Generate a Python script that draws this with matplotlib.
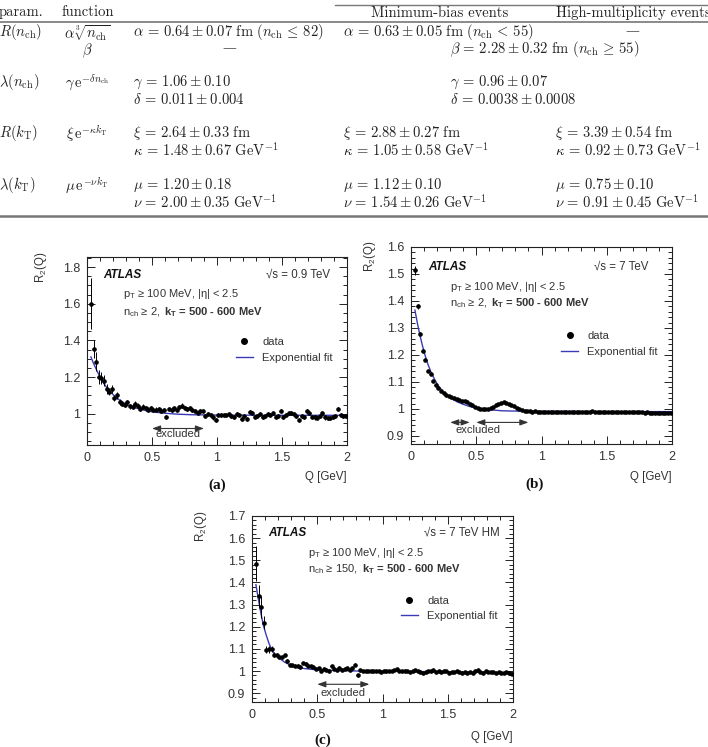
"""Two-particle correlation R2(Q) fits with a table of fit parameters above."""
import numpy as np
import matplotlib.pyplot as plt
from matplotlib.lines import Line2D
from matplotlib.ticker import MultipleLocator, FuncFormatter

plt.rcParams['font.family'] = ['Liberation Sans', 'DejaVu Sans']
plt.rcParams['mathtext.fontset'] = 'custom'
plt.rcParams['mathtext.rm'] = 'Liberation Sans'
plt.rcParams['mathtext.it'] = 'Liberation Sans:italic'
plt.rcParams['mathtext.bf'] = 'Liberation Sans:bold'

# ---- table content ----
param_labels = [r'$R(n_{\rm ch})$', r'$\lambda(n_{\rm ch})$', r'$R(k_{\rm T})$', r'$\lambda(k_{\rm T})$']
functions = [r'$\alpha\,\sqrt[3]{n_{\rm ch}}$', r'$\gamma\,{\rm e}^{-\delta n_{\rm ch}}$',
             r'$\xi\,{\rm e}^{-\kappa k_{\rm T}}$', r'$\mu\,{\rm e}^{-\nu k_{\rm T}}$']
col_900 = [[r'$\alpha\,=\,0.64 \pm 0.07\ {\rm fm}\ (n_{\rm ch}\,\leq\,82)$'],
           [r'$\gamma\,=\,1.06 \pm 0.10$', r'$\delta\,=\,0.011 \pm 0.004$'],
           [r'$\xi\,=\,2.64 \pm 0.33\ {\rm fm}$', r'$\kappa\,=\,1.48 \pm 0.67\ {\rm GeV}^{-1}$'],
           [r'$\mu\,=\,1.20 \pm 0.18$', r'$\nu\,=\,2.00 \pm 0.35\ {\rm GeV}^{-1}$']]
col_mb = [[r'$\alpha\,=\,0.63 \pm 0.05\ {\rm fm}\ (n_{\rm ch}\,<\,55)$'],
          [],
          [r'$\xi\,=\,2.88 \pm 0.27\ {\rm fm}$', r'$\kappa\,=\,1.05 \pm 0.58\ {\rm GeV}^{-1}$'],
          [r'$\mu\,=\,1.12 \pm 0.10$', r'$\nu\,=\,1.54 \pm 0.26\ {\rm GeV}^{-1}$']]
col_hm = [[],
          [],
          [r'$\xi\,=\,3.39 \pm 0.54\ {\rm fm}$', r'$\kappa\,=\,0.92 \pm 0.73\ {\rm GeV}^{-1}$'],
          [r'$\mu\,=\,0.75 \pm 0.10$', r'$\nu\,=\,0.91 \pm 0.45\ {\rm GeV}^{-1}$']]
col_span = [[None, r'$\beta\,=\,2.28 \pm 0.32\ {\rm fm}\ (n_{\rm ch}\,\geq\,55)$'],
            [r'$\gamma\,=\,0.96 \pm 0.07$', r'$\delta\,=\,0.0038 \pm 0.0008$']]

# ---- R2(Q) data ----
q = np.round(np.arange(0.03, 2.0, 0.02), 2)

r2_a = [1.60, 1.354, 1.285, 1.20, 1.195, 1.18, 1.135, 1.12, 1.135, 1.087,
        1.10, 1.063, 1.056, 1.05, 1.063, 1.04, 1.038, 1.056, 1.045, 1.027,
        1.038, 1.03, 1.023, 1.032, 1.02, 1.023, 1.027, 1.018, 1.02, 0.984,
        1.027, 1.023, 1.03, 1.02, 1.036, 1.045, 1.032, 1.027, 1.03, 1.02,
        1.018, 1.002, 1.015, 1.015, 0.987, 1.0, 0.995, 0.98, 0.966,
        0.995, 0.995, 0.995, 0.993, 0.998, 0.99, 0.985, 1.0, 0.992, 0.97,
        0.99, 0.97, 1.01, 1.005, 0.985, 0.99, 1.0, 0.985, 0.99, 1.0,
        0.995, 1.005, 0.985, 0.99, 1.018, 0.985, 0.995, 1.005, 1.005, 1.0,
        0.99, 0.968, 0.99, 0.985, 1.015, 1.005, 0.985, 0.98, 0.978, 0.99,
        1.005, 0.98, 0.978, 0.978, 0.985, 0.99, 1.025, 0.995, 0.99, 0.99]
err_a = [0.14, 0.05, 0.05, 0.04, 0.035, 0.03, 0.025, 0.02, 0.02, 0.018,
         0.018, 0.016, 0.015, 0.015, 0.014, 0.014, 0.014, 0.013, 0.013, 0.013,
         0.013, 0.012, 0.012, 0.012, 0.012, 0.012, 0.012, 0.012, 0.012, 0.012,
         0.012, 0.012, 0.012, 0.012, 0.012, 0.012, 0.012, 0.011, 0.011, 0.011,
         0.011, 0.011, 0.011, 0.011, 0.011, 0.011, 0.011, 0.011, 0.011,
         0.011, 0.011, 0.011, 0.011, 0.011, 0.011, 0.011, 0.011, 0.011, 0.011,
         0.011, 0.011, 0.011, 0.011, 0.011, 0.011, 0.011, 0.011, 0.011, 0.011,
         0.011, 0.011, 0.011, 0.011, 0.011, 0.011, 0.011, 0.011, 0.011, 0.011,
         0.011, 0.011, 0.011, 0.011, 0.011, 0.011, 0.011, 0.011, 0.011, 0.011,
         0.011, 0.011, 0.011, 0.011, 0.011, 0.011, 0.011, 0.011, 0.011, 0.011]

r2_b = [1.514, 1.38, 1.279, 1.216, 1.183, 1.139, 1.129, 1.104, 1.089, 1.078,
        1.066, 1.059, 1.052, 1.048, 1.044, 1.04, 1.038, 1.034, 1.031, 1.029,
        1.025, 1.02, 1.015, 1.008, 1.003, 0.999, 0.998, 0.999, 1.001, 1.004,
        1.008, 1.013, 1.018, 1.021, 1.024, 1.023, 1.02, 1.015, 1.01, 1.005,
        1.0, 0.996, 0.994, 0.991,
        0.991, 0.99, 0.991, 0.99, 0.99, 0.989, 0.99, 0.989, 0.989, 0.99,
        0.989, 0.988, 0.989, 0.988, 0.988, 0.989, 0.988, 0.987, 0.988, 0.988,
        0.989, 0.988, 0.989, 0.99, 0.991, 0.99, 0.989, 0.988, 0.989, 0.988,
        0.988, 0.989, 0.988, 0.987, 0.988, 0.988, 0.987, 0.988, 0.987, 0.988,
        0.987, 0.987, 0.988, 0.987, 0.986, 0.987, 0.986, 0.986, 0.985, 0.986,
        0.985, 0.985, 0.986, 0.985, 0.984]
err_b = [0.016, 0.008, 0.006, 0.005, 0.005, 0.004, 0.004, 0.004, 0.003, 0.003,
         0.003, 0.003, 0.003, 0.003, 0.003, 0.003, 0.003, 0.003, 0.003, 0.003,
         0.003, 0.003, 0.003, 0.003, 0.003, 0.003, 0.003, 0.003, 0.003, 0.003,
         0.003, 0.003, 0.003, 0.003, 0.003, 0.003, 0.003, 0.003, 0.003, 0.003,
         0.003, 0.003, 0.003, 0.003,
         0.003, 0.003, 0.003, 0.003, 0.003, 0.003, 0.003, 0.003, 0.003, 0.003,
         0.003, 0.003, 0.003, 0.003, 0.003, 0.003, 0.003, 0.003, 0.003, 0.003,
         0.003, 0.003, 0.003, 0.003, 0.003, 0.003, 0.003, 0.003, 0.003, 0.003,
         0.003, 0.003, 0.003, 0.003, 0.003, 0.003, 0.003, 0.003, 0.003, 0.003,
         0.003, 0.003, 0.003, 0.003, 0.003, 0.003, 0.003, 0.003, 0.003, 0.003,
         0.003, 0.003, 0.003, 0.003, 0.003]

r2_c = [1.485, 1.34, 1.29, 1.218, 1.097, 1.098, 1.10, 1.074, 1.071, 1.064,
        1.061, 1.071, 1.045, 1.029, 1.026, 1.024, 1.023, 1.018, 1.036, 1.033,
        1.024, 1.021, 1.018, 1.011, 1.014, 1.0, 1.011, 1.006, 1.002, 1.023,
        1.011, 1.003, 1.015, 1.006, 1.011, 1.014, 1.006, 1.015, 1.029, 0.98,
        1.003, 1.0, 1.0,
        0.999, 1.0, 0.998, 1.001, 0.999, 0.997, 1.0, 0.998, 1.001, 0.999,
        1.003, 1.008, 1.0, 0.998, 1.002, 1.0, 0.997, 0.999, 1.004, 1.001,
        0.996, 0.99, 0.995, 1.001, 0.998, 1.004, 0.996, 1.0, 0.994, 0.998,
        1.0, 0.993, 0.997, 0.995, 0.999, 0.994, 0.993, 0.996, 0.992, 0.995,
        0.993, 1.002, 1.004, 0.997, 0.993, 0.999, 0.996, 0.995, 0.994, 0.992,
        0.996, 0.993, 0.991, 0.994, 0.989, 0.985]
err_c = [0.08, 0.05, 0.05, 0.03, 0.015, 0.015, 0.015, 0.01, 0.01, 0.01,
         0.008, 0.008, 0.008, 0.007, 0.007, 0.007, 0.007, 0.007, 0.006, 0.006,
         0.006, 0.006, 0.006, 0.006, 0.006, 0.006, 0.006, 0.006, 0.006, 0.006,
         0.006, 0.006, 0.006, 0.006, 0.006, 0.006, 0.006, 0.006, 0.006, 0.006,
         0.006, 0.006, 0.006,
         0.005, 0.005, 0.005, 0.005, 0.005, 0.005, 0.005, 0.005, 0.005, 0.005,
         0.005, 0.005, 0.005, 0.005, 0.005, 0.005, 0.005, 0.005, 0.005, 0.005,
         0.005, 0.005, 0.005, 0.005, 0.005, 0.005, 0.005, 0.005, 0.005, 0.005,
         0.005, 0.005, 0.005, 0.005, 0.005, 0.005, 0.005, 0.005, 0.005, 0.005,
         0.005, 0.005, 0.005, 0.005, 0.005, 0.005, 0.005, 0.005, 0.005, 0.005,
         0.005, 0.005, 0.005, 0.005, 0.005, 0.005]

# exponential fit curves, read at a few Q values
fit_q_a = [0.03, 0.05, 0.07, 0.09, 0.11, 0.13, 0.15, 0.18, 0.21, 0.25, 0.30,
           0.35, 0.40, 0.45, 0.50, 0.60, 0.70, 0.80, 1.00, 1.50, 2.00]
fit_a = [1.31, 1.275, 1.245, 1.215, 1.19, 1.165, 1.145, 1.12, 1.098, 1.075, 1.053,
         1.038, 1.027, 1.018, 1.011, 1.003, 0.998, 0.995, 0.993, 0.992, 0.992]
fit_q_b = [0.03, 0.05, 0.07, 0.09, 0.11, 0.13, 0.15, 0.18, 0.21, 0.25, 0.30,
           0.35, 0.40, 0.45, 0.50, 0.60, 0.70, 0.80, 1.00, 1.50, 2.00]
fit_b = [1.366, 1.315, 1.27, 1.23, 1.195, 1.165, 1.14, 1.11, 1.085, 1.062, 1.042,
         1.027, 1.017, 1.009, 1.003, 0.997, 0.993, 0.992, 0.991, 0.99, 0.99]
fit_q_c = [0.03, 0.05, 0.07, 0.09, 0.11, 0.13, 0.15, 0.17, 0.20, 0.25, 0.30,
           0.35, 0.40, 0.50, 0.60, 0.80, 1.00, 1.50, 2.00]
fit_c = [1.39, 1.32, 1.255, 1.2, 1.16, 1.125, 1.098, 1.078, 1.062, 1.04, 1.025,
         1.017, 1.011, 1.005, 1.003, 1.0, 0.999, 0.996, 0.992]

excluded_a = [(0.5, 0.9)]
excluded_b = [(0.3, 0.45), (0.5, 0.9)]
excluded_c = [(0.5, 0.9)]

W, H = 708, 747
tc = '#333333'
blue = '#3a3ab8'


def box(l, t, r, b):
    return [l / W, 1 - b / H, (r - l) / W, (b - t) / H]


def panel(ax, r2, err, fq, fr, ylim, ymaj, ymin, excl, yex, ytext, xtext):
    ax.errorbar(q, r2, yerr=err, xerr=0.01, fmt='o', ms=2.3, color='k',
                ecolor='k', elinewidth=0.7, capsize=0, zorder=3)
    ax.plot(fq, fr, color=blue, lw=1.0, zorder=2)
    ax.set_xlim(0, 2)
    ax.set_ylim(*ylim)
    ax.xaxis.set_major_locator(MultipleLocator(0.5))
    ax.xaxis.set_minor_locator(MultipleLocator(0.1))
    ax.yaxis.set_major_locator(MultipleLocator(ymaj))
    ax.yaxis.set_minor_locator(MultipleLocator(ymin))
    fmt = FuncFormatter(lambda v, p: '%g' % round(v, 3))
    ax.xaxis.set_major_formatter(fmt)
    ax.yaxis.set_major_formatter(fmt)
    ax.tick_params(which='both', direction='in', top=True, right=True,
                   labelsize=9, labelcolor=tc, color='#222222', width=0.7)
    ax.tick_params(which='major', length=6, pad=5)
    ax.tick_params(which='minor', length=3)
    for s in ax.spines.values():
        s.set_linewidth(0.8)
        s.set_color('#222222')
    ax.set_xlabel('Q [GeV]', loc='right', fontsize=8.3, color=tc)
    ax.set_ylabel(r'R$_\mathrm{2}$(Q)', loc='top', fontsize=8.3, color=tc)
    for lo, hi in excl:
        ax.annotate('', xy=(lo, yex), xytext=(hi, yex),
                    arrowprops=dict(arrowstyle='<|-|>,head_length=0.5,head_width=0.18',
                                    color=tc, lw=0.8, shrinkA=0, shrinkB=0))
    ax.text(xtext, ytext, 'excluded', fontsize=8, color=tc, ha='center', va='center')
    handles = [Line2D([], [], marker='o', ls='none', color='k', ms=4),
               Line2D([], [], color=blue, lw=1.0)]
    return handles


fig = plt.figure(figsize=(W / 100, H / 100), dpi=100)

ax_a = fig.add_axes(box(87, 257, 347, 445))
ax_b = fig.add_axes(box(411, 247, 672, 444))
ax_c = fig.add_axes(box(252, 516, 513, 702))

leg = dict(frameon=False, fontsize=8, borderpad=0, handlelength=1.6,
           handletextpad=0.8, labelcolor=tc, loc='upper left')

h = panel(ax_a, r2_a, err_a, fit_q_a, fit_a, (0.83, 1.855), 0.2, 0.05,
          excluded_a, 0.92, 0.89, 0.70)
ax_a.legend(h, ['data', 'Exponential fit'], bbox_to_anchor=(0.55, 0.604),
            labelspacing=0.5, **leg)
ax_a.yaxis.set_label_coords(-0.146, 1.03)
ax_a.xaxis.set_label_coords(1.0, -0.138)

h = panel(ax_b, r2_b, err_b, fit_q_b, fit_b, (0.87, 1.6), 0.1, 0.02,
          excluded_b, 0.95, 0.922, 0.51)
ax_b.legend(h, ['data', 'Exponential fit'], bbox_to_anchor=(0.552, 0.601),
            labelspacing=0.55, **leg)
ax_b.yaxis.set_label_coords(-0.126, 1.03)
ax_b.xaxis.set_label_coords(1.0, -0.137)

h = panel(ax_c, r2_c, err_c, fit_q_c, fit_c, (0.86, 1.7), 0.1, 0.02,
          excluded_c, 0.94, 0.90, 0.70)
ax_c.legend(h, ['data', 'Exponential fit'], bbox_to_anchor=(0.548, 0.6),
            labelspacing=0.45, **leg)
ax_c.yaxis.set_label_coords(-0.165, 1.03)
ax_c.xaxis.set_label_coords(1.0, -0.156)

# overlay in pixel units for the table and the panel annotations
ov = fig.add_axes([0, 0, 1, 1])
ov.set_xlim(0, W)
ov.set_ylim(H, 0)
ov.axis('off')
ov.set_zorder(10)

tk = dict(fontsize=10.5, color='#222222', va='center', math_fontfamily='cm')
rm = dict(fontsize=10.5, color='#222222', va='center', family='cmr10')

ov.text(-1, 12, 'param.', **rm)
ov.text(88, 12, 'function', ha='center', **rm)
ov.text(440, 13, 'Minimum-bias events', ha='center', **rm)
ov.text(556, 13, 'High-multiplicity events', ha='left', **rm)
ov.plot([335, W], [5, 5], color='#777777', lw=1.0)
ov.plot([0, W], [22, 22], color='#777777', lw=1.2)
ov.plot([0, W], [216, 216], color='#777777', lw=1.8)

row_y = [32, 82, 133, 185]
for i, y in enumerate(row_y):
    ov.text(-1, y, param_labels[i], **tk)
    ov.text(87, y + 1, functions[i], ha='center', **tk)
    for j, s in enumerate(col_900[i]):
        ov.text(133, y + 17 * j, s, **tk)
    for j, s in enumerate(col_mb[i]):
        ov.text(343, y + 17 * j, s, **tk)
    for j, s in enumerate(col_hm[i]):
        ov.text(555, y + 17 * j, s, **tk)
for i, y in enumerate(row_y[:2]):
    for j, s in enumerate(col_span[i]):
        if s is not None:
            ov.text(450, y + 17 * j, s, **tk)
ov.text(87, 51, r'$\beta$', ha='center', **tk)
ov.text(229, 48, '—', ha='center', va='center', fontsize=10, color='#444444', family='DejaVu Serif')
ov.text(632, 31, '—', ha='center', va='center', fontsize=10, color='#444444', family='DejaVu Serif')

# panel annotations
sub = [('0.9 TeV', 103, 275, 330, 123, 294, 312, '2'),
       ('7 TeV', 428, 267, 648, 450, 287, 303, '2'),
       ('7 TeV HM', 268, 533, 500, 308, 553, 569, '150')]
for energy, xa, ya, xs, xp, yp, yn, nmin in sub:
    ov.text(xa, ya, 'ATLAS', fontsize=8.5, fontweight='bold', fontstyle='italic',
            color='#111111', va='center')
    ov.text(xs, ya, '√s = ' + energy, fontsize=8.3, color=tc, va='center', ha='right')
    ov.text(xp, yp, r'p$_\mathrm{T}$ ≥ 100 MeV, |η| < 2.5', fontsize=8, color=tc, va='center')
    t = ov.text(xp, yn, r'n$_\mathrm{ch}$ ≥ ' + nmin + ',', fontsize=8, color=tc, va='center')
    ov.annotate(r'k$_\mathbf{T}$ = 500 - 600 MeV', xy=(1, 0), xycoords=t,
                xytext=(3, 0), textcoords='offset points', va='bottom',
                fontsize=8, fontweight='bold', color=tc)

ov.text(217, 485, '(a)', fontsize=11, fontweight='bold', family='Liberation Serif',
        ha='center', va='center', color='#111111')
ov.text(535, 484, '(b)', fontsize=11, fontweight='bold', family='Liberation Serif',
        ha='center', va='center', color='#111111')
ov.text(323, 740, '(c)', fontsize=11, fontweight='bold', family='Liberation Serif',
        ha='center', va='center', color='#111111')

fig.savefig('out.png', dpi=100)
